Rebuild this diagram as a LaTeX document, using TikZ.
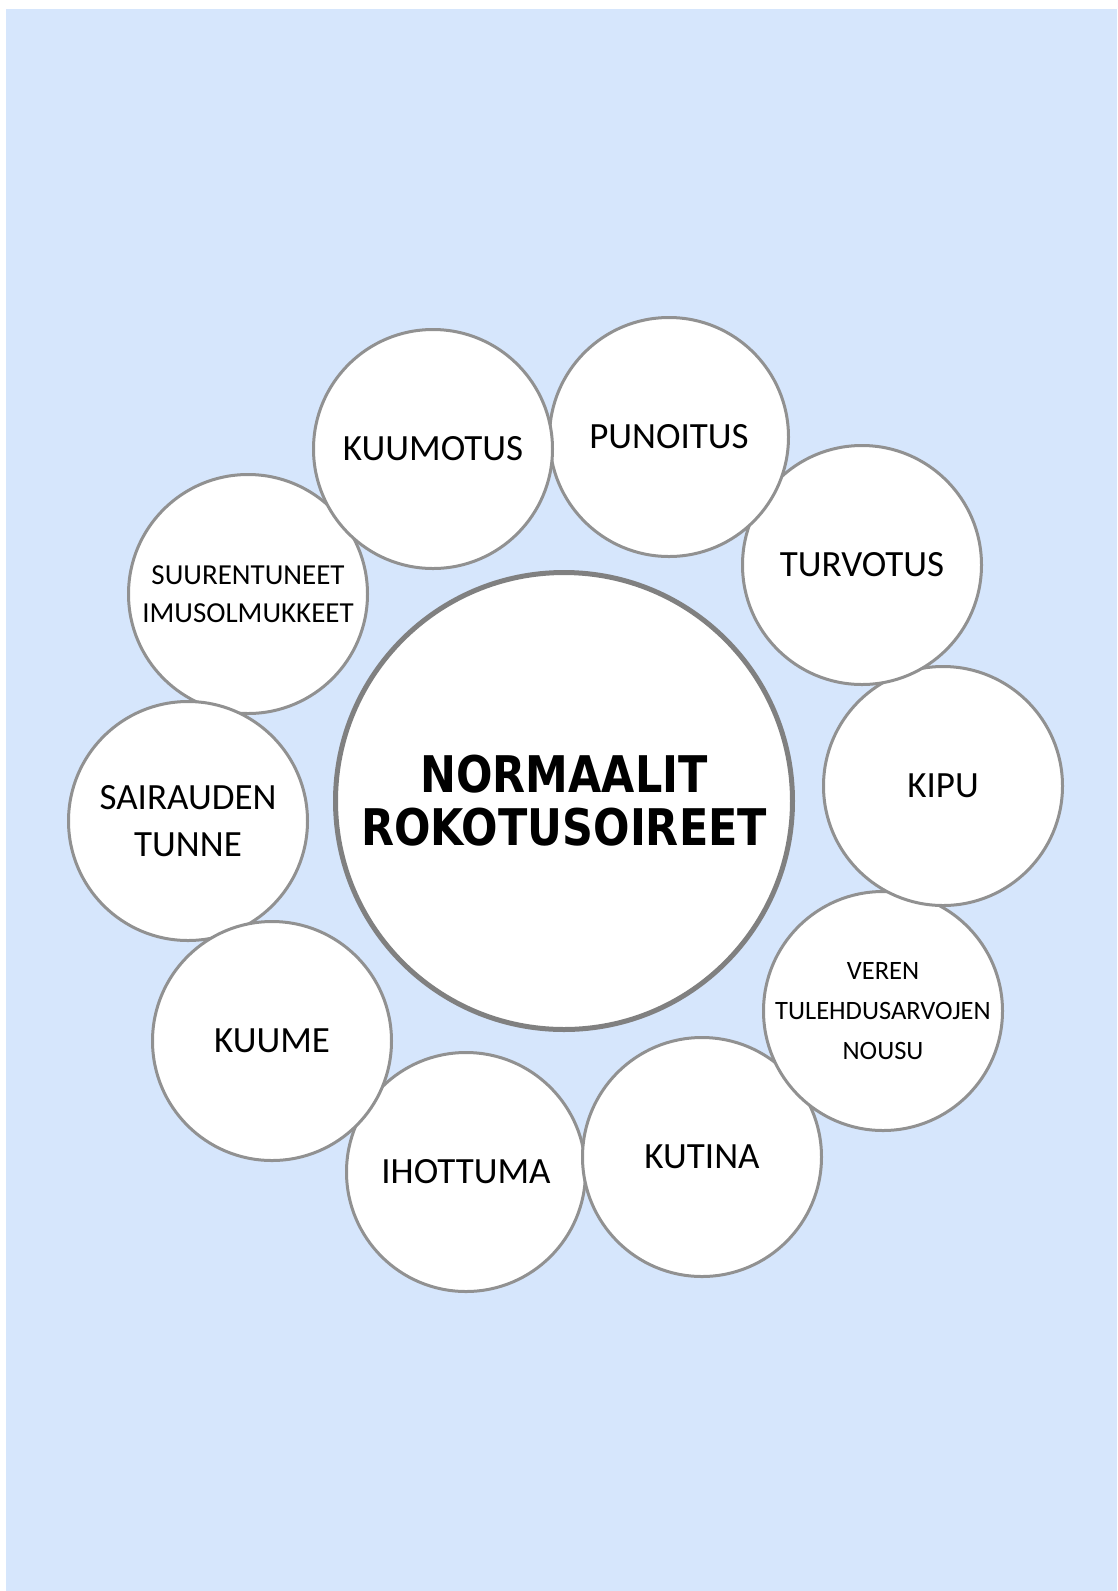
\documentclass[tikz,border=0pt]{standalone}
\usepackage{fontspec}
\newfontfamily\smallfnt{Carlito}
\newfontfamily\bigfnt[FakeStretch=0.85]{DejaVu Sans Bold}
\definecolor{bgblue}{RGB}{214,230,252}
\definecolor{ringgray}{RGB}{145,145,145}
\definecolor{bigring}{RGB}{128,128,128}
\begin{document}
\begin{tikzpicture}[x=1pt,y=-1pt,
  bubble/.style={circle, draw=ringgray, line width=3pt, fill=white, inner sep=0pt,
    minimum size=239pt, align=center, text=black},
  onel/.style={font=\smallfnt\fontsize{37}{47}\selectfont},
  twol/.style={font=\smallfnt\fontsize{29}{38}\selectfont},
  threel/.style={font=\smallfnt\fontsize{26.5}{40}\selectfont},
  hub/.style={circle, draw=bigring, line width=5pt, fill=white, inner sep=0pt,
    minimum size=457pt, align=center, text=black,
    font=\bigfnt\fontsize{50.5}{53}\selectfont}]
\useasboundingbox (0,0) rectangle (1117,1591);
\fill[white] (0,0) rectangle (1117,1591);
\fill[bgblue] (6,9) rectangle (1117,1591);
% small bubbles
\node[bubble,onel] (ihottuma) at (466,1172) {IHOTTUMA};
\node[bubble,onel] (kutina) at (702,1157) {KUTINA};
\node[bubble,threel] (veren) at (883,1011) {VEREN\\TULEHDUSARVOJEN\\NOUSU};
\node[bubble,onel] (kipu) at (943,786) {KIPU};
\node[bubble,onel] (turvotus) at (862,565) {TURVOTUS};
\node[bubble,onel] (punoitus) at (669,437) {PUNOITUS};
\node[bubble,twol] (suur) at (248,594) {SUURENTUNEET\\IMUSOLMUKKEET};
\node[bubble,onel] (kuumotus) at (433,449) {KUUMOTUS};
\node[bubble,onel] (sairauden) at (188,821) {SAIRAUDEN\\TUNNE};
\node[bubble,onel] (kuume) at (272,1041) {KUUME};
% hub
\node[hub] (center) at (564,801) {NORMAALIT\\ROKOTUSOIREET};
\end{tikzpicture}
\end{document}
